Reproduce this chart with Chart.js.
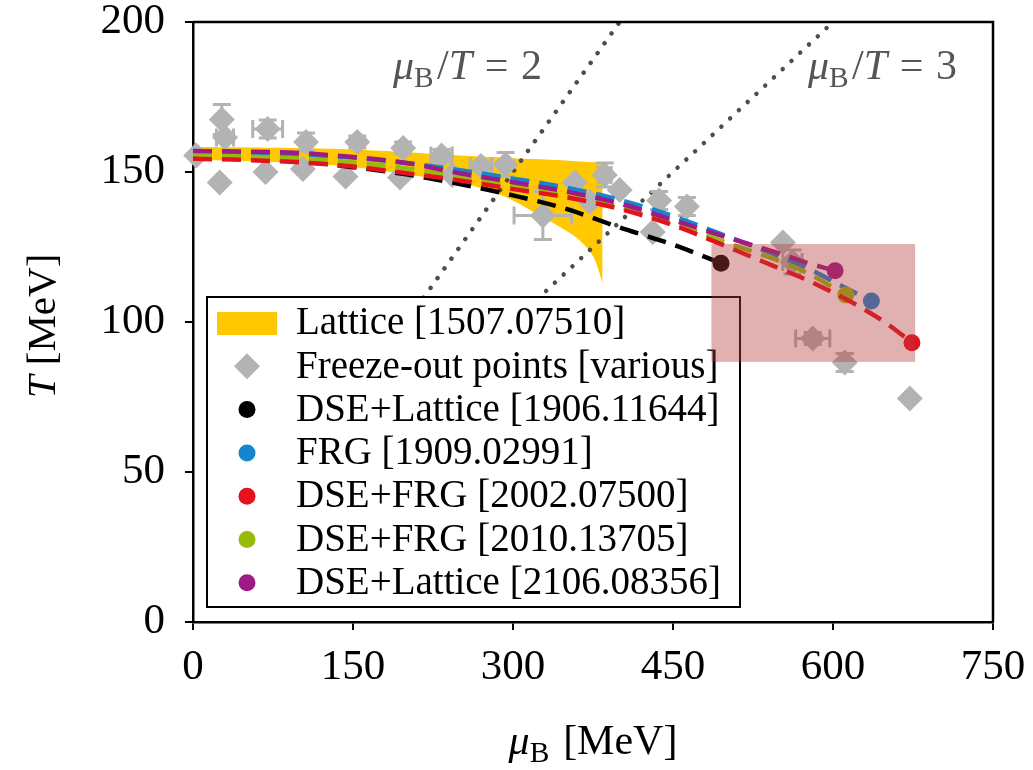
<!DOCTYPE html>
<html>
<head>
<meta charset="utf-8">
<script src="https://cdn.jsdelivr.net/npm/chart.js@4.4.0/dist/chart.umd.min.js"></script>
<style>
  body { margin: 0; background: #fff; }
</style>
</head>
<body>
<canvas id="myChart" width="1033" height="770"></canvas>
<script>
// setup - values (mu_B and T in MeV)
const latticeMu    = [0, 50, 100, 150, 200, 250, 280, 300, 320, 340, 360, 375, 384];
const latticeUpper = [158.3, 158.2, 158, 157.5, 156.6, 155.5, 155, 154.6, 154.3, 154, 153.6, 153.3, 153];
const latticeLower = [154, 153.7, 153, 151.7, 149.2, 146.5, 143.5, 140.5, 136.5, 132.5, 128, 122, 113];

const freezeMu    = [3, 27, 30, 25, 70, 68, 106, 103, 154, 143, 197, 194, 233, 243, 270, 293, 328, 358, 372, 386, 400, 437, 431, 463, 553, 562, 581, 611, 672];
const freezeT     = [155.5, 167.5, 161.5, 146.5, 164.3, 150, 160, 151, 160, 148.5, 158, 148.2, 155.5, 149, 152, 152.5, 135.5, 146.5, 140, 149, 144, 140.5, 130, 138.5, 126.5, 120, 94.5, 86.5, 74.5];
const freezeMuErr = [0, 0, 8, 0, 14, 0, 0, 0, 0, 0, 0, 0, 10, 0, 10, 0, 27, 0, 0, 6, 0, 0, 0, 0, 0, 9, 16, 0, 0];
const freezeTErr  = [0, 5, 0, 0, 3, 0, 3, 0, 2, 0, 2, 0, 2, 0, 0, 4, 8, 0, 0, 4, 0, 3, 0, 3, 0, 4, 2, 3, 0];

const dseLat19Mu = [0, 50, 100, 150, 200, 250, 300, 350, 400, 450, 495];
const dseLat19T  = [155.2, 154.8, 153.6, 151.6, 149.2, 146, 142.2, 137.7, 131.5, 125.8, 119.6];
const frg19Mu    = [0, 50, 100, 150, 200, 250, 300, 350, 400, 450, 500, 550, 575, 605, 636];
const frg19T     = [156.5, 156.3, 155.8, 154.8, 153, 150.6, 147.8, 144.8, 140.7, 135.3, 128.6, 121.9, 118.2, 112.6, 107];
const dseFrg20Mu = [0, 50, 100, 150, 200, 250, 300, 350, 400, 450, 500, 550, 575, 600, 625, 650, 674];
const dseFrg20T  = [154.4, 154, 153.2, 151.8, 149.6, 147.2, 144.3, 141.6, 137.7, 132.3, 125.2, 117.8, 114.1, 109.8, 105.1, 99.6, 93.1];
const dseFrg21Mu = [0, 50, 100, 150, 200, 250, 300, 350, 400, 450, 500, 550, 575, 612];
const dseFrg21T  = [155.8, 155.1, 154.5, 153.2, 151.2, 148.4, 145.3, 142.3, 138.3, 133, 126.5, 120.3, 116.5, 109];
const dseLat21Mu = [0, 50, 100, 150, 200, 250, 300, 350, 400, 450, 500, 550, 575, 602];
const dseLat21T  = [157, 156.8, 156.3, 155, 153, 149.6, 146.6, 143.5, 139.5, 134, 128.3, 122.8, 119.8, 117.1];

// mu_B/T = 2 and mu_B/T = 3 guide lines (lower ends hidden under the legend)
const ratio2Mu = [40, 400];
const ratio2T  = [20, 200];
const ratio3Mu = [60, 600];
const ratio3T  = [20, 200];

// shaded CEP region
const cepRegionMu = [486, 677];
const cepRegionT  = [86.7, 126];

const xTicks = [0, 150, 300, 450, 600, 750];
const yTicks = [0, 50, 100, 150, 200];

const legendLabels = [
  'Lattice [1507.07510]',
  'Freeze-out points [various]',
  'DSE+Lattice [1906.11644]',
  'FRG [1909.02991]',
  'DSE+FRG [2002.07500]',
  'DSE+FRG [2010.13705]',
  'DSE+Lattice [2106.08356]'
];

const SERIF = '"Liberation Serif", "DejaVu Serif", serif';
const GREY = '#b3b3b3';
const YELLOW = '#ffc800';
const cBlack = '#000000', cBlue = '#1585d0', cRed = '#e3121c', cOlive = '#98bb0a', cMagenta = '#9e1a86';

function pts(xs, ys) { return xs.map((x, i) => ({x: x, y: ys[i]})); }

function curve(label, mu, T, color, order) {
  return {
    label: label,
    data: pts(mu, T),
    showLine: true,
    borderColor: color,
    backgroundColor: color,
    borderWidth: 4.5,
    borderDash: [19, 10],
    cubicInterpolationMode: 'monotone',
    pointRadius: ctx => ctx.dataIndex === mu.length - 1 ? 8.5 : 0,
    pointBorderWidth: 0,
    pointBackgroundColor: color,
    order: order,
    clip: false
  };
}

const data = {
  datasets: [
    curve(legendLabels[4], dseFrg20Mu, dseFrg20T, cRed, 1),
    curve(legendLabels[6], dseLat21Mu, dseLat21T, cMagenta, 2),
    curve(legendLabels[5], dseFrg21Mu, dseFrg21T, cOlive, 3),
    curve(legendLabels[3], frg19Mu, frg19T, cBlue, 4),
    curve(legendLabels[2], dseLat19Mu, dseLat19T, cBlack, 5),
    {
      label: legendLabels[1],
      data: pts(freezeMu, freezeT),
      showLine: false,
      pointStyle: 'rectRot',
      pointRadius: 13,
      pointBorderWidth: 0,
      pointBackgroundColor: GREY,
      order: 6,
      clip: false
    },
    {
      label: 'ratio2',
      data: pts(ratio2Mu, ratio2T),
      showLine: true,
      borderColor: '#4d4d4d',
      borderWidth: 4.5,
      borderDash: [0.01, 12],
      borderCapStyle: 'round',
      pointRadius: 0,
      order: 7
    },
    {
      label: 'ratio3',
      data: pts(ratio3Mu, ratio3T),
      showLine: true,
      borderColor: '#4d4d4d',
      borderWidth: 4.5,
      borderDash: [0.01, 12],
      borderCapStyle: 'round',
      pointRadius: 0,
      order: 8
    },
    {
      label: 'latticeLower',
      data: pts(latticeMu, latticeLower),
      showLine: true,
      borderWidth: 0,
      borderColor: 'rgba(0,0,0,0)',
      pointRadius: 0,
      tension: 0.3,
      order: 9
    },
    {
      label: legendLabels[0],
      data: pts(latticeMu, latticeUpper),
      showLine: true,
      borderWidth: 0,
      borderColor: 'rgba(0,0,0,0)',
      backgroundColor: YELLOW,
      fill: '-1',
      pointRadius: 0,
      tension: 0.3,
      order: 10
    }
  ]
};

// draw text made of pieces (italic, subscript) along a baseline
function richWidth(ctx, pieces, size) {
  let w = 0;
  pieces.forEach(p => {
    const s = p.sub ? size * 0.7 : size;
    ctx.font = (p.italic ? 'italic ' : '') + s + 'px ' + SERIF;
    w += ctx.measureText(p.t).width + (p.gap || 0) * size;
  });
  return w;
}
function drawRich(ctx, pieces, x, y, size) {
  pieces.forEach(p => {
    const s = p.sub ? size * 0.7 : size;
    ctx.font = (p.italic ? 'italic ' : '') + s + 'px ' + SERIF;
    ctx.fillText(p.t, x, y + (p.sub ? size * 0.2 : 0));
    x += ctx.measureText(p.t).width + (p.gap || 0) * size;
  });
}

const muB = [{t: 'μ', italic: true}, {t: 'B', sub: true, gap: 0.08}];

const decorations = {
  id: 'decorations',
  beforeDatasetDraw(chart, args) {
    if (args.index !== 5) return;
    const ctx = chart.ctx, xs = chart.scales.x, ys = chart.scales.y;
    ctx.save();
    ctx.strokeStyle = GREY;
    ctx.lineWidth = 3;
    const cap = 9;
    freezeMu.forEach((m, i) => {
      const px = xs.getPixelForValue(m), py = ys.getPixelForValue(freezeT[i]);
      ctx.beginPath();
      if (freezeMuErr[i] > 0) {
        const x0 = xs.getPixelForValue(m - freezeMuErr[i]), x1 = xs.getPixelForValue(m + freezeMuErr[i]);
        ctx.moveTo(x0, py); ctx.lineTo(x1, py);
        ctx.moveTo(x0, py - cap); ctx.lineTo(x0, py + cap);
        ctx.moveTo(x1, py - cap); ctx.lineTo(x1, py + cap);
      }
      if (freezeTErr[i] > 0) {
        const y0 = ys.getPixelForValue(freezeT[i] - freezeTErr[i]), y1 = ys.getPixelForValue(freezeT[i] + freezeTErr[i]);
        ctx.moveTo(px, y0); ctx.lineTo(px, y1);
        ctx.moveTo(px - cap, y0); ctx.lineTo(px + cap, y0);
        ctx.moveTo(px - cap, y1); ctx.lineTo(px + cap, y1);
      }
      ctx.stroke();
    });
    ctx.restore();
  },
  afterDatasetsDraw(chart) {
    const ctx = chart.ctx, a = chart.chartArea;
    ctx.save();
    // ratio labels
    ctx.fillStyle = '#555555';
    ctx.textBaseline = 'alphabetic';
    const ratioLabel = n => muB.concat([
      {t: '/', gap: 0}, {t: 'T', italic: true, gap: 0.3}, {t: '=', gap: 0.3}, {t: String(n)}
    ]);
    drawRich(ctx, ratioLabel(2), a.left + 200, a.top + 57, 42);
    drawRich(ctx, ratioLabel(3), a.left + 615, a.top + 57, 42);

    // legend
    const lx = a.left + 14, ly = a.top + 275, lw = 533, lh = 310;
    ctx.fillStyle = '#ffffff';
    ctx.fillRect(lx, ly, lw, lh);
    ctx.strokeStyle = '#000';
    ctx.lineWidth = 2;
    ctx.strokeRect(lx, ly, lw, lh);
    const mx = lx + 40, tx = lx + 89;
    const markerColors = [null, null, cBlack, cBlue, cRed, cOlive, cMagenta];
    legendLabels.forEach((lab, i) => {
      const cy = ly + 26 + i * 43.3;
      if (i === 0) {
        ctx.fillStyle = YELLOW;
        ctx.fillRect(mx - 30, cy - 11, 60, 23);
      } else if (i === 1) {
        ctx.fillStyle = GREY;
        ctx.beginPath();
        ctx.moveTo(mx, cy - 13); ctx.lineTo(mx + 13, cy); ctx.lineTo(mx, cy + 13); ctx.lineTo(mx - 13, cy);
        ctx.closePath(); ctx.fill();
      } else {
        ctx.fillStyle = markerColors[i];
        ctx.beginPath();
        ctx.arc(mx, cy, 8.5, 0, Math.PI * 2);
        ctx.fill();
      }
      ctx.fillStyle = '#000';
      ctx.font = '39px ' + SERIF;
      ctx.textBaseline = 'middle';
      ctx.fillText(lab, tx, cy + 1);
    });
    ctx.restore();
  },
  afterDraw(chart) {
    const ctx = chart.ctx, a = chart.chartArea, xs = chart.scales.x, ys = chart.scales.y;
    ctx.save();
    // shaded CEP region
    const rx0 = xs.getPixelForValue(cepRegionMu[0]), rx1 = xs.getPixelForValue(cepRegionMu[1]);
    const ry0 = ys.getPixelForValue(cepRegionT[1]), ry1 = ys.getPixelForValue(cepRegionT[0]);
    ctx.fillStyle = 'rgba(180, 60, 60, 0.4)';
    ctx.fillRect(rx0, ry0, rx1 - rx0, ry1 - ry0);

    // frame top + right
    ctx.strokeStyle = '#000';
    ctx.lineWidth = 2.5;
    ctx.beginPath();
    ctx.moveTo(a.left, a.top); ctx.lineTo(a.right, a.top); ctx.lineTo(a.right, a.bottom);
    ctx.stroke();

    // axis titles
    ctx.fillStyle = '#000';
    ctx.textBaseline = 'alphabetic';
    const xt = muB.concat([{t: ' [MeV]'}]);
    const xw = richWidth(ctx, xt, 42);
    drawRich(ctx, xt, (a.left + a.right) / 2 - xw / 2, 754, 42);

    const yt = [{t: 'T', italic: true}, {t: ' [MeV]'}];
    const yw = richWidth(ctx, yt, 41);
    ctx.translate(55, (a.top + a.bottom) / 2 + 4);
    ctx.rotate(-Math.PI / 2);
    drawRich(ctx, yt, -yw / 2, 0, 41);
    ctx.restore();
  }
};

// config
const config = {
  type: 'scatter',
  data,
  options: {
    responsive: false,
    animation: false,
    devicePixelRatio: 1,
    layout: { padding: { left: 0, right: 40, top: 22, bottom: 0 } },
    plugins: { legend: { display: false }, tooltip: { enabled: false } },
    scales: {
      x: {
        type: 'linear',
        min: xTicks[0],
        max: xTicks[xTicks.length - 1],
        afterBuildTicks: s => { s.ticks = xTicks.map(v => ({value: v})); },
        afterFit: s => { s.height = 148; s.paddingLeft = 0; s.paddingRight = 0; },
        ticks: { color: '#000', padding: 12, maxRotation: 0, font: { family: SERIF, size: 43 } },
        grid: { drawOnChartArea: false, drawTicks: true, tickLength: 8, color: '#000', lineWidth: 2 },
        border: { display: true, color: '#000', width: 2.5 }
      },
      y: {
        type: 'linear',
        min: yTicks[0],
        max: yTicks[yTicks.length - 1],
        afterBuildTicks: s => { s.ticks = yTicks.map(v => ({value: v})); },
        afterFit: s => { s.width = 193; s.paddingTop = 0; s.paddingBottom = 0; },
        ticks: { color: '#000', padding: 20, font: { family: SERIF, size: 43 } },
        grid: { drawOnChartArea: false, drawTicks: true, tickLength: 8, color: '#000', lineWidth: 2 },
        border: { display: true, color: '#000', width: 2.5 }
      }
    }
  },
  plugins: [decorations]
};

// render init block
const myChart = new Chart(document.getElementById('myChart'), config);
</script>
</body>
</html>
